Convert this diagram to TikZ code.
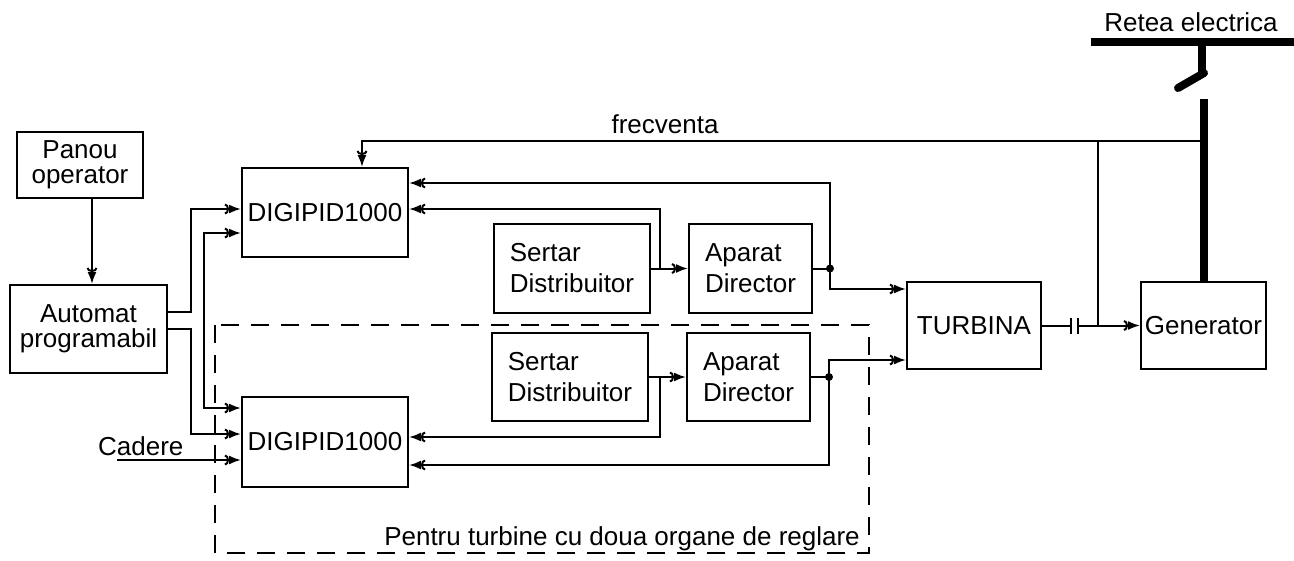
\documentclass[tikz,border=0pt]{standalone}
\usepackage{fontspec}
\setmainfont{Liberation Sans}
\usetikzlibrary{arrows.meta,calc,positioning}
\tikzset{
  fork/.tip={Arc Barb[length=4pt,width=11pt,line width=2pt] Latex[length=12pt,width=9pt]},
  block/.style={draw,line width=2pt,inner sep=1pt,align=center,minimum height=89pt},
  wire/.style={line width=2pt},
  sig/.style={line width=2pt,-fork},
  joint/.style={circle,fill,inner sep=0pt,minimum size=8pt},
  power/.style={line width=8pt},
  frame/.style={line width=2pt,dash pattern=on 18pt off 12pt}
}

\begin{document}
\begin{tikzpicture}[x=1pt,y=-1pt,font=\fontsize{26}{25}\selectfont,node distance=37pt]
  \useasboundingbox (0,0) rectangle (1294,560);
  % operator side
  \node[block,minimum width=126pt,minimum height=66pt] (panou) at (80,165) {Panou\\operator};
  \node[block,minimum width=157pt,minimum height=88pt] (automat) at (88.5,329) {Automat\\programabil};
  % the two regulators
  \node[block,minimum width=166pt] (dig1) at (325,212.5) {DIGIPID1000};
  \node[block,minimum width=166pt,minimum height=90pt] (dig2) at (325,442) {DIGIPID1000};
  % servo chains
  \node[block,align=left,minimum width=156pt] (sertar1) at (572,268.5) {Sertar\\[6pt]Distribuitor};
  \node[block,align=left,minimum width=123pt,right=of sertar1] (aparat1) {Aparat\\[6pt]Director};
  \node[block,align=left,minimum width=156pt,minimum height=88pt] (sertar2) at (570,377) {Sertar\\[6pt]Distribuitor};
  \node[block,align=left,minimum width=123pt,minimum height=88pt,right=of sertar2] (aparat2) {Aparat\\[6pt]Director};
  % turbine group
  \node[block,minimum width=134pt,minimum height=87pt] (turbina) at (974,325.5) {TURBINA};
  \node[block,minimum width=125pt,minimum height=87pt,right=98pt of turbina] (generator) {Generator};

  % commands to the regulators
  \draw[sig] (panou.south -| 92,0) -- (automat.north -| 92,0);
  \draw[sig] (automat.east |- 0,312) -| (191,209) -- (dig1.west |- 0,209);
  \draw[sig] (automat.east |- 0,329) -| (191,434) -- (dig2.west |- 0,434);
  \coordinate (tap) at (204,320);
  \draw[sig] (tap) |- (dig1.west |- 0,233);
  \draw[sig] (tap) |- (dig2.west |- 0,408);
  \coordinate (cad) at (117,460);
  \node[anchor=base west,inner sep=0pt] (cadere) at (98,455) {Cadere};
  \draw[sig] (cad) -- (dig2.west |- cad);

  % upper chain
  \draw[sig] (sertar1) -- (aparat1);
  \draw[sig] ([xshift=9pt]sertar1.east) |- (dig1.east |- 0,209);
  \draw[wire] (aparat1.east) -- ++(17,0) node[joint] (j1) {};
  \draw[sig] (j1.center) |- (turbina.west |- 0,289);
  \draw[sig] (j1.center) |- (dig1.east |- 0,183);

  % lower chain
  \draw[sig] (sertar2) -- (aparat2);
  \draw[sig] ([xshift=11pt]sertar2.east) |- (dig2.east |- 0,437);
  \draw[wire] (aparat2.east) -- ++(18,0) node[joint] (j2) {};
  \draw[sig] (j2.center) |- (turbina.west |- 0,360);
  \draw[sig] (j2.center) |- (dig2.east |- 0,465);

  % shaft with coupling
  \coordinate (cpl) at (turbina.east -| 1071,0);
  \draw[wire] (turbina.east) -- (cpl);
  \draw[wire] (cpl) ++(0,-8) -- ++(0,16);
  \draw[wire] ([xshift=7pt]cpl) ++(0,-8) -- ++(0,16);
  \draw[sig] ([xshift=7pt]cpl) -- (generator.west);
  \draw[wire] (generator.west -| 1098,0) -- (1098,141);

  % frequency feedback
  \draw[sig] (generator.north |- 0,141) -| (dig1.north -| 362,0);
  \node at (665,124) {frecventa};

  % grid connection
  \draw[power] (generator.north) -- ++(0,-182);
  \draw[power,line cap=round] (1178,88) -- (1204,73);
  \draw[power] (1202,74) -- (1202,42);
  \draw[power] (1091,42) -- (1294,42);
  \node at (1191,22) {Retea electrica};

  % optional second regulating organ
  \draw[frame] (215,325) rectangle (869,553);
  \node[anchor=base east,inner sep=0pt] at (860,545) {Pentru turbine cu doua organe de reglare};
\end{tikzpicture}
\end{document}
